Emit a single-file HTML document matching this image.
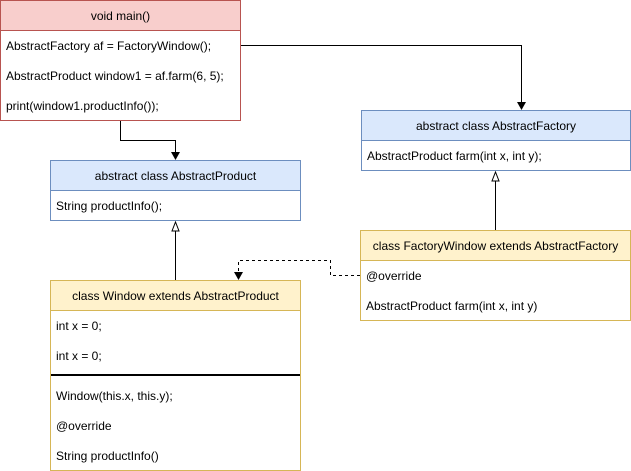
<!DOCTYPE html>
<html><head><style>
body{margin:0;width:631px;height:471px;position:relative;background:#fff;font-family:"Liberation Sans",Arial,sans-serif;font-size:12px;color:#000;overflow:hidden}
.b{position:absolute;box-sizing:border-box;border:1px solid}
.h{position:absolute;left:0;right:0;top:0;height:30px;line-height:30px;text-align:center;box-sizing:border-box;border-bottom:1px solid}
.r{position:absolute;left:5px;white-space:nowrap;line-height:30px}
svg{position:absolute;left:0;top:0}
</style></head><body>
<div class="b" style="left:0;top:0;width:241px;height:121px;border-color:#b85450">
<div class="h" style="background:#f8cecc;border-color:#b85450">void main()</div>
<div class="r" style="top:30px">AbstractFactory af = FactoryWindow();</div>
<div class="r" style="top:60px">AbstractProduct window1 = af.farm(6, 5);</div>
<div class="r" style="top:90px">print(window1.productInfo());</div>
</div>
<div class="b" style="left:361px;top:110px;width:270px;height:61px;border-color:#6c8ebf">
<div class="h" style="background:#dae8fc;border-color:#6c8ebf">abstract class AbstractFactory</div>
<div class="r" style="top:30px">AbstractProduct farm(int x, int y);</div>
</div>
<div class="b" style="left:50px;top:160px;width:251px;height:61px;border-color:#6c8ebf">
<div class="h" style="background:#dae8fc;border-color:#6c8ebf">abstract class AbstractProduct</div>
<div class="r" style="top:30px">String productInfo();</div>
</div>
<div class="b" style="left:360px;top:230px;width:271px;height:91px;border-color:#d6b656">
<div class="h" style="background:#fff2cc;border-color:#d6b656">class FactoryWindow extends AbstractFactory</div>
<div class="r" style="top:30px">@override</div>
<div class="r" style="top:60px">AbstractProduct farm(int x, int y)</div>
</div>
<div class="b" style="left:50px;top:280px;width:251px;height:191px;border-color:#d6b656">
<div class="h" style="background:#fff2cc;border-color:#d6b656">class Window extends AbstractProduct</div>
<div class="r" style="top:30px">int x = 0;</div>
<div class="r" style="top:60px">int x = 0;</div>
<div style="position:absolute;left:0;right:0;top:93px;height:2px;background:#000"></div>
<div class="r" style="top:100px">Window(this.x, this.y);</div>
<div class="r" style="top:130px">@override</div>
<div class="r" style="top:160px">String productInfo()</div>
</div>
<svg width="631" height="471">
<g fill="none" stroke="#000" stroke-width="1">
<path d="M120.5 121V140.5H175.5V153"/>
<path d="M241 45.5H521.5V103"/>
<path d="M495.5 230V181"/>
<path d="M175.5 280V231"/>
<path d="M360 275.5H330.5V260.5H238.5V273" stroke-dasharray="3,3"/>
</g>
<g fill="#000"><path d="M171 152L180 152L175.5 160Z"/><path d="M517 102L526 102L521.5 110Z"/><path d="M234 272L243 272L238.5 280Z"/></g>
<g fill="#fff" stroke="#000"><path d="M492 181L499 181L495.5 172Z"/><path d="M172 231L179 231L175.5 222Z"/></g>
</svg>
</body></html>
